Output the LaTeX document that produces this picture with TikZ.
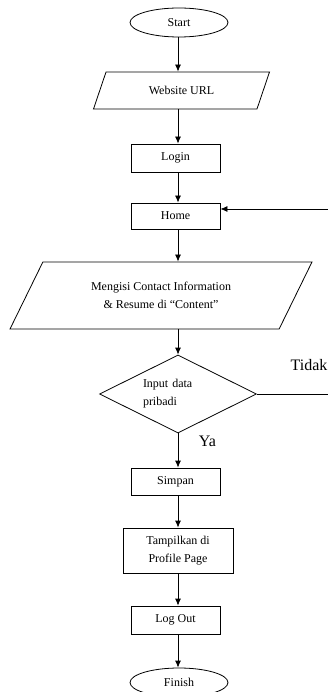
\documentclass[tikz,border=0pt]{standalone}
\usepackage{fontspec}
\setmainfont{Liberation Serif}
\usetikzlibrary{positioning,calc,shapes.geometric,arrows.meta}

\begin{document}
\begin{tikzpicture}[x=1pt,y=-1pt,>={Latex[length=7pt,width=6pt]},line width=0.8pt,
  every node/.style={draw,font=\fontsize{12}{18}\selectfont},
  kotak/.style={rectangle,minimum width=89,minimum height=27,inner sep=0pt},
  oval/.style={ellipse,minimum width=98,minimum height=29,inner sep=0pt},
  jajar/.style={trapezium,trapezium left angle=#1,trapezium right angle=180-#1,
    trapezium stretches body,inner sep=1pt,align=center},
  label/.style={draw=none,font=\fontsize{16}{18}\selectfont}]
\useasboundingbox (0,0) rectangle (328,692);
\clip (0,0) rectangle (328,692);
\coordinate (sumbu) at (178,0);

\node (start) at (179,22.5) [oval] {Start};
\node (url) at (181.5,90.5) [jajar=40,minimum width=176,minimum height=37] {Website URL};
\node (login) at (175.5,158) [kotak,minimum height=28] {Login};
\node (home) at (175.5,216) [kotak,minimum height=26] {Home};
\node (isi) at (161,295.5) [jajar=41,minimum width=302,minimum height=67] {Mengisi Contact Information\\\& Resume di ``Content''};
\node (input) at (178,394) [diamond,aspect=2,minimum width=157,minimum height=78,inner sep=0pt,text width=70,align=left] {Input data\\pribadi};
\node (simpan) at (175.5,481.5) [kotak] {Simpan};
\node (tampil) at (178,550.5) [kotak,minimum width=110,minimum height=45,align=center] {Tampilkan di\\Profile Page};
\node (logout) at (175.5,620) [kotak,minimum height=28] {Log Out};
\node (finish) at (179,682.5) [oval] {Finish};

\node (tidak) at (309,365) [label] {Tidak};
\node (ya) at (207.5,441) [label] {Ya};

\draw[->] (start.south -| sumbu) -- (url.north -| sumbu);
\draw[->] (url.south -| sumbu) -- (login.north -| sumbu);
\draw[->] (login.south -| sumbu) -- (home.north -| sumbu);
\draw[->] (home.south -| sumbu) -- (isi.north -| sumbu);
\draw[->] (isi.south -| sumbu) -- (input.north);
\draw[->] (input.south) -- (simpan.north -| sumbu);
\draw[->] (simpan.south -| sumbu) -- (tampil.north);
\draw[->] (tampil.south) -- (logout.north -| sumbu);
\draw[->] (logout.south -| sumbu) -- (finish.north -| sumbu);
% kembali ke Home
\draw[->] (input.east) -- ++(75,0) |- ([yshift=7pt]home.east);
\end{tikzpicture}
\end{document}
